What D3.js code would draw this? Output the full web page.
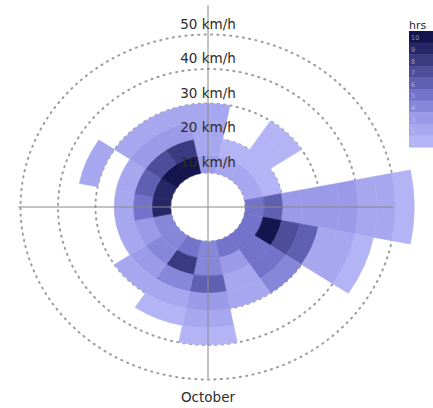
<!DOCTYPE html>
<html>
<head>
<meta charset="utf-8">
<script src="https://cdn.jsdelivr.net/npm/d3@7"></script>
<style>
  html, body { margin: 0; padding: 0; background: #fff; }
  svg { display: block; }
</style>
</head>
<body>
<svg id="chart" width="433" height="408"></svg>
<script>
// ---------------- data ----------------
const directions = ["N","NNE","NE","ENE","E","ESE","SE","SSE","S","SSW","SW","WSW","W","WNW","NW","NNW"];
const speedBinStarts = [10, 15, 20, 25, 30, 35, 40, 45, 50]; // km/h, bin width 5
const binWidth = 5;
const ringTicks = [10, 20, 30, 40, 50];
const ringLabels = ["10 km/h", "20 km/h", "30 km/h", "40 km/h", "50 km/h"];
const monthLabel = "October";
const legendTitle = "hrs";
const legendValues = [10, 9, 8, 7, 6, 5, 4, 3, 2, 1];

// hours per speed bin (starting at 10 km/h) for each direction
const hoursN   = [3, 2, 2, 2];
const hoursNNE = [2, 1];
const hoursNE  = [2, 1, 1, 1];
const hoursENE = [2, 1];
const hoursE   = [5, 6, 3, 3, 3, 3, 2, 2, 1];
const hoursESE = [5, 10, 7, 6, 2, 2, 1];
const hoursSE  = [5, 5, 5, 4];
const hoursSSE = [5, 3, 2, 2];
const hoursS   = [4, 4, 6, 3, 2, 1];
const hoursSSW = [5, 8, 4, 2, 1];
const hoursSW  = [4, 4, 3, 2];
const hoursWSW = [4, 3, 2];
const hoursW   = [9, 5, 2];
const hoursWNW = [9, 6, 2, 0, 2];
const hoursNW  = [10, 7, 3, 2];
const hoursNNW = [10, 8, 3, 2];

const hoursByDir = [hoursN, hoursNNE, hoursNE, hoursENE, hoursE, hoursESE, hoursSE, hoursSSE,
                    hoursS, hoursSSW, hoursSW, hoursWSW, hoursW, hoursWNW, hoursNW, hoursNNW];

// build cell table
const cells = [];
directions.forEach((dir, i) => {
  hoursByDir[i].forEach((h, j) => {
    if (h > 0) cells.push({ dir, i, lo: speedBinStarts[j], hi: speedBinStarts[j] + binWidth, hours: h });
  });
});

// ---------------- layout ----------------
const svg = d3.select("#chart");
const cx = 208, cy = 207, squash = 0.92;

const r = d3.scaleLinear().domain([0, 55]).range([0, 206.25]);
const angle = d3.scaleBand().domain(directions).range([-Math.PI / 16, 2 * Math.PI - Math.PI / 16]);
const color = d3.scaleLinear().domain([1, 3, 5, 10])
  .range(["#b3b3f6", "#9a9ae8", "#7373cc", "#14144e"]).interpolate(d3.interpolateRgb);

const g = svg.append("g").attr("transform", `translate(${cx},${cy}) scale(1,${squash})`);

// dotted rings
g.selectAll("circle.ring").data(ringTicks).join("circle")
  .attr("class", "ring")
  .attr("r", d => r(d))
  .attr("fill", "none")
  .attr("stroke", "#9c9c9c")
  .attr("stroke-width", 2)
  .attr("stroke-dasharray", "1.2,5.2")
  .attr("stroke-linecap", "round")
  .attr("vector-effect", "non-scaling-stroke");

// cells
const arc = d3.arc()
  .innerRadius(d => r(d.lo))
  .outerRadius(d => r(d.hi))
  .startAngle(d => angle(d.dir))
  .endAngle(d => angle(d.dir) + angle.bandwidth());

g.selectAll("path.cell").data(cells).join("path")
  .attr("class", "cell")
  .attr("d", arc)
  .attr("fill", d => color(d.hours))
  .attr("stroke", d => color(d.hours))
  .attr("stroke-width", 0.6)
  .attr("vector-effect", "non-scaling-stroke");

// axis cross
g.append("line")
  .attr("x1", -r(50.6)).attr("x2", r(49.4)).attr("y1", 0).attr("y2", 0)
  .attr("stroke", "#8a8a8a").attr("stroke-width", 1).attr("vector-effect", "non-scaling-stroke");
g.append("line")
  .attr("x1", 0).attr("x2", 0).attr("y1", -r(58.5)).attr("y2", r(49.6))
  .attr("stroke", "#8a8a8a").attr("stroke-width", 1).attr("vector-effect", "non-scaling-stroke");

// ring labels
svg.selectAll("text.ringlabel").data(ringTicks).join("text")
  .attr("class", "ringlabel")
  .attr("x", cx)
  .attr("y", d => cy - squash * r(d) - 6)
  .attr("text-anchor", "middle")
  .attr("font-family", "DejaVu Sans, sans-serif")
  .attr("font-size", 13.5)
  .attr("fill", "#2c2c2c")
  .text((d, i) => ringLabels[i]);

svg.append("text")
  .attr("x", cx)
  .attr("y", cy + squash * r(50) + 22)
  .attr("text-anchor", "middle")
  .attr("font-family", "DejaVu Sans, sans-serif")
  .attr("font-size", 13.5)
  .attr("fill", "#2c2c2c")
  .text(monthLabel);

// legend
const lg = svg.append("g");
const ly = d3.scaleBand().domain(legendValues).range([31, 147]);
lg.selectAll("rect").data(legendValues).join("rect")
  .attr("x", 409).attr("width", 30)
  .attr("y", d => ly(d)).attr("height", ly.bandwidth() + 0.5)
  .attr("fill", d => color(d));
lg.selectAll("text.lv").data(legendValues).join("text")
  .attr("class", "lv")
  .attr("x", 411)
  .attr("y", d => ly(d) + ly.bandwidth() / 2 + 3.5)
  .attr("font-family", "DejaVu Sans, sans-serif")
  .attr("font-size", 6.5)
  .attr("fill", "#d8d8f8")
  .attr("opacity", 0.6)
  .text(d => d);
lg.append("text")
  .attr("x", 409).attr("y", 29)
  .attr("font-family", "DejaVu Sans, sans-serif")
  .attr("font-size", 11)
  .attr("fill", "#222")
  .text(legendTitle);
</script>
</body>
</html>
